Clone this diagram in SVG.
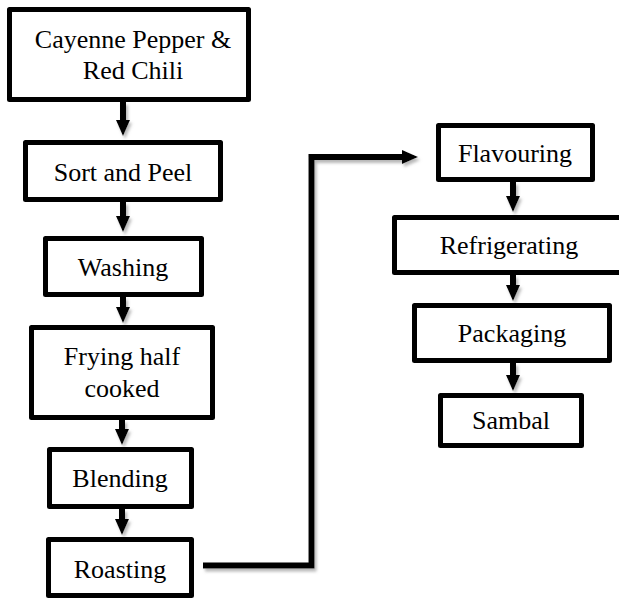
<svg xmlns="http://www.w3.org/2000/svg" width="619" height="598" viewBox="0 0 619 598">
<style>
.box{fill:#fff;stroke:#000;stroke-width:5;stroke-linejoin:round}
.lbl{font-size:26px;fill:#000;text-anchor:middle}
.conn{fill:none;stroke:#000;stroke-width:6;marker-end:url(#ah)}
</style>
<defs>
<marker id="ah" markerUnits="userSpaceOnUse" markerWidth="16" markerHeight="14" viewBox="0 0 16 14" refX="6" refY="7" orient="auto">
<path d="M0,0 L16,7 L0,14 z" fill="#000"/>
</marker>
<filter id="sh" x="-20%" y="-20%" width="140%" height="140%">
<feDropShadow dx="2" dy="3" stdDeviation="1.5" flood-color="#888" flood-opacity="0.6"/>
</filter>
</defs>
<rect width="619" height="598" fill="#fff"/>
<g id="connectors" filter="url(#sh)">
<path class="conn" d="M123,102 V126"/>
<path class="conn" d="M123,202 V222"/>
<path class="conn" d="M123,297 V313"/>
<path class="conn" d="M122,420 V435"/>
<path class="conn" d="M122,509 V525"/>
<path class="conn" d="M203,565.5 H311.5 V157 H408"/>
<path class="conn" d="M513,182 V202"/>
<path class="conn" d="M513,275 V291"/>
<path class="conn" d="M513,363 V381"/>
</g>
<g font-family="Liberation Serif, Times New Roman, DejaVu Serif, serif">
<g id="n1"><rect class="box" x="9.5" y="9.5" width="239" height="90"/><text class="lbl" x="133" y="48">Cayenne Pepper &amp;</text><text class="lbl" x="133" y="79">Red Chili</text></g>
<g id="n2"><rect class="box" x="25.5" y="142.5" width="195" height="57"/><text class="lbl" x="123" y="181">Sort and Peel</text></g>
<g id="n3"><rect class="box" x="45.5" y="238.5" width="156" height="56"/><text class="lbl" x="123" y="276">Washing</text></g>
<g id="n4"><rect class="box" x="31.5" y="327.5" width="181" height="90"/><text class="lbl" x="122" y="365">Frying half</text><text class="lbl" x="122" y="397">cooked</text></g>
<g id="n5"><rect class="box" x="49.5" y="449.5" width="142" height="57"/><text class="lbl" x="120" y="487">Blending</text></g>
<g id="n6"><rect class="box" x="48.5" y="539.5" width="143" height="56"/><text class="lbl" x="120" y="578">Roasting</text></g>
<g id="n7"><rect class="box" x="438.5" y="125.5" width="154" height="54"/><text class="lbl" x="515" y="162">Flavouring</text></g>
<g id="n8"><rect class="box" x="394.5" y="217.5" width="228" height="55"/><text class="lbl" x="509" y="254">Refrigerating</text></g>
<g id="n9"><rect class="box" x="414.5" y="305.5" width="195" height="55"/><text class="lbl" x="512" y="342">Packaging</text></g>
<g id="n10"><rect class="box" x="440.5" y="395.5" width="141" height="50"/><text class="lbl" x="511" y="429">Sambal</text></g>
</g>
</svg>
